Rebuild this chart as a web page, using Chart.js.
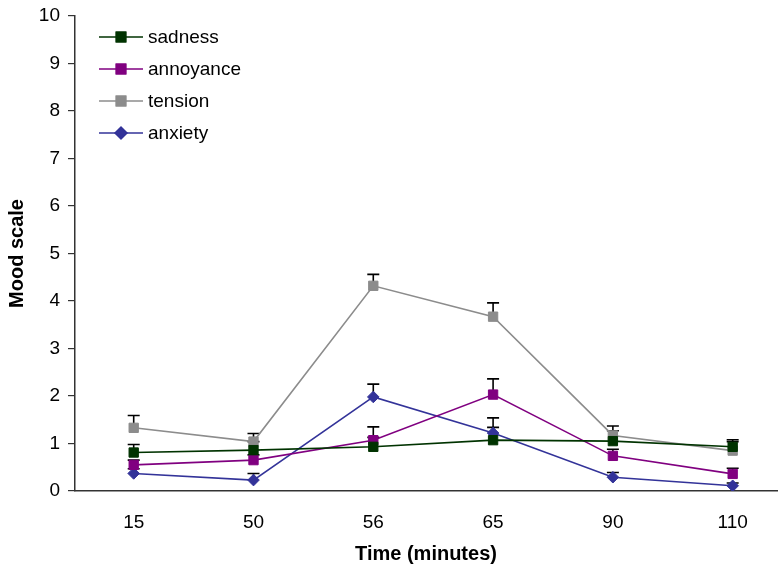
<!DOCTYPE html>
<html>
<head>
<meta charset="utf-8">
<script src="https://cdn.jsdelivr.net/npm/chart.js@4"></script>
<style>
  html, body { margin: 0; padding: 0; background: #fff; }
  #wrap { width: 779px; height: 571px; }
</style>
</head>
<body>
<div id="wrap"><canvas id="mood"></canvas></div>
<script>
// time points (minutes)
const times = ['15', '50', '56', '65', '90', '110'];

// mean mood values
const sadness   = [0.81, 0.86, 0.93, 1.07, 1.05, 0.93];
const annoyance = [0.55, 0.65, 1.07, 2.03, 0.74, 0.36];
const tension   = [1.33, 1.04, 4.32, 3.67, 1.17, 0.85];
const anxiety   = [0.37, 0.23, 1.98, 1.22, 0.29, 0.11];

// upper error bars
const sadnessErr   = [0.17, 0.18, 0.20, 0.27, 0.22, 0.15];
const annoyanceErr = [0.10, 0.11, 0.28, 0.33, 0.14, 0.12];
const tensionErr   = [0.26, 0.17, 0.24, 0.29, 0.20, 0.19];
const anxietyErr   = [0.10, 0.14, 0.27, 0.32, 0.10, 0.06];

const yTicks = [0, 1, 2, 3, 4, 5, 6, 7, 8, 9, 10];

const FONT = 'Liberation Sans, Arial, sans-serif';

const toPoints = arr => arr.map((v, i) => ({ x: i, y: v }));

const series = [
    { label: 'sadness',   data: sadness,   err: sadnessErr,   color: '#003300', fill: '#003300', style: 'rect',    r: 6.6 },
    { label: 'annoyance', data: annoyance, err: annoyanceErr, color: '#800080', fill: '#800080', style: 'rect',    r: 6.6 },
    { label: 'tension',   data: tension,   err: tensionErr,   color: '#8c8c8c', fill: '#8c8c8c', style: 'rect',    r: 6.6 },
    { label: 'anxiety',   data: anxiety,   err: anxietyErr,   color: '#333399', fill: '#333399', style: 'rectRot', r: 5.8 },
];

// error bars, drawn under the markers
const errorBars = {
    id: 'errorBars',
    beforeDatasetsDraw(chart) {
        const { ctx, scales: { x, y } } = chart;
        ctx.save();
        ctx.strokeStyle = '#000';
        ctx.lineWidth = 1.6;
        series.forEach(s => {
            s.data.forEach((v, i) => {
                const px = x.getPixelForValue(i);
                const y0 = y.getPixelForValue(v);
                const y1 = y.getPixelForValue(v + s.err[i]);
                ctx.beginPath();
                ctx.moveTo(px, y0);
                ctx.lineTo(px, y1);
                ctx.moveTo(px - 6, y1);
                ctx.lineTo(px + 6, y1);
                ctx.stroke();
            });
        });
        ctx.restore();
    }
};

// legend in the top-left corner of the plot
const insideLegend = {
    id: 'insideLegend',
    afterDraw(chart) {
        const ctx = chart.ctx;
        ctx.save();
        ctx.font = '19px ' + FONT;
        ctx.textBaseline = 'middle';
        series.forEach((s, i) => {
            const yy = 37 + i * 32;
            ctx.strokeStyle = s.color;
            ctx.lineWidth = 1.5;
            ctx.beginPath();
            ctx.moveTo(99, yy);
            ctx.lineTo(143, yy);
            ctx.stroke();
            Chart.helpers.drawPoint(ctx, {
                pointStyle: s.style, radius: s.r, borderWidth: 1
            }, 121, yy);
            ctx.fillStyle = s.fill;
            ctx.strokeStyle = s.color;
            ctx.fill();
            ctx.stroke();
            ctx.fillStyle = '#000';
            ctx.fillText(s.label, 148, yy + 1);
        });
        ctx.restore();
    }
};

new Chart(document.getElementById('mood'), {
    type: 'line',
    data: {
        datasets: series.map(s => ({
            label: s.label,
            data: toPoints(s.data),
            borderColor: s.color,
            backgroundColor: s.fill,
            borderWidth: 1.6,
            pointStyle: s.style,
            pointRadius: s.r,
            pointHoverRadius: s.r,
            pointBackgroundColor: s.fill,
            pointBorderColor: s.color,
            pointBorderWidth: 1,
            tension: 0
        }))
    },
    options: {
        responsive: true,
        maintainAspectRatio: false,
        animation: false,
        layout: {
            autoPadding: false,
            padding: { top: 16, right: 2, left: 0, bottom: 0 }
        },
        plugins: {
            legend: { display: false },
            tooltip: { enabled: false }
        },
        scales: {
            x: {
                type: 'linear',
                min: -0.49,
                max: 5.37,
                afterBuildTicks: scale => {
                    scale.ticks = times.map((t, i) => ({ value: i }));
                },
                afterFit: scale => {
                    scale.height = 80;
                    scale.paddingLeft = 0;
                    scale.paddingRight = 0;
                },
                ticks: {
                    callback: v => times[v],
                    font: { family: FONT, size: 19 },
                    color: '#000',
                    padding: 20,
                    maxRotation: 0
                },
                grid: { display: false, drawTicks: false },
                border: { display: true, color: '#333', width: 1.5 },
                title: {
                    display: true,
                    text: 'Time (minutes)',
                    font: { family: FONT, size: 20, weight: 'bold' },
                    color: '#000',
                    padding: { top: 0, bottom: 5 }
                }
            },
            y: {
                min: 0,
                max: 10,
                afterBuildTicks: scale => {
                    scale.ticks = yTicks.map(v => ({ value: v }));
                },
                afterFit: scale => {
                    scale.width = 75;
                    scale.paddingTop = 0;
                    scale.paddingBottom = 0;
                },
                ticks: {
                    font: { family: FONT, size: 19 },
                    color: '#000',
                    padding: 8
                },
                grid: {
                    drawOnChartArea: false,
                    drawTicks: true,
                    tickLength: 7,
                    color: '#333',
                    lineWidth: 1.2
                },
                border: { display: true, color: '#333', width: 1.5 },
                title: {
                    display: true,
                    text: 'Mood scale',
                    font: { family: FONT, size: 20, weight: 'bold' },
                    color: '#000',
                    padding: { top: 5, bottom: 0 }
                }
            }
        }
    },
    plugins: [errorBars, insideLegend]
});
</script>
</body>
</html>
